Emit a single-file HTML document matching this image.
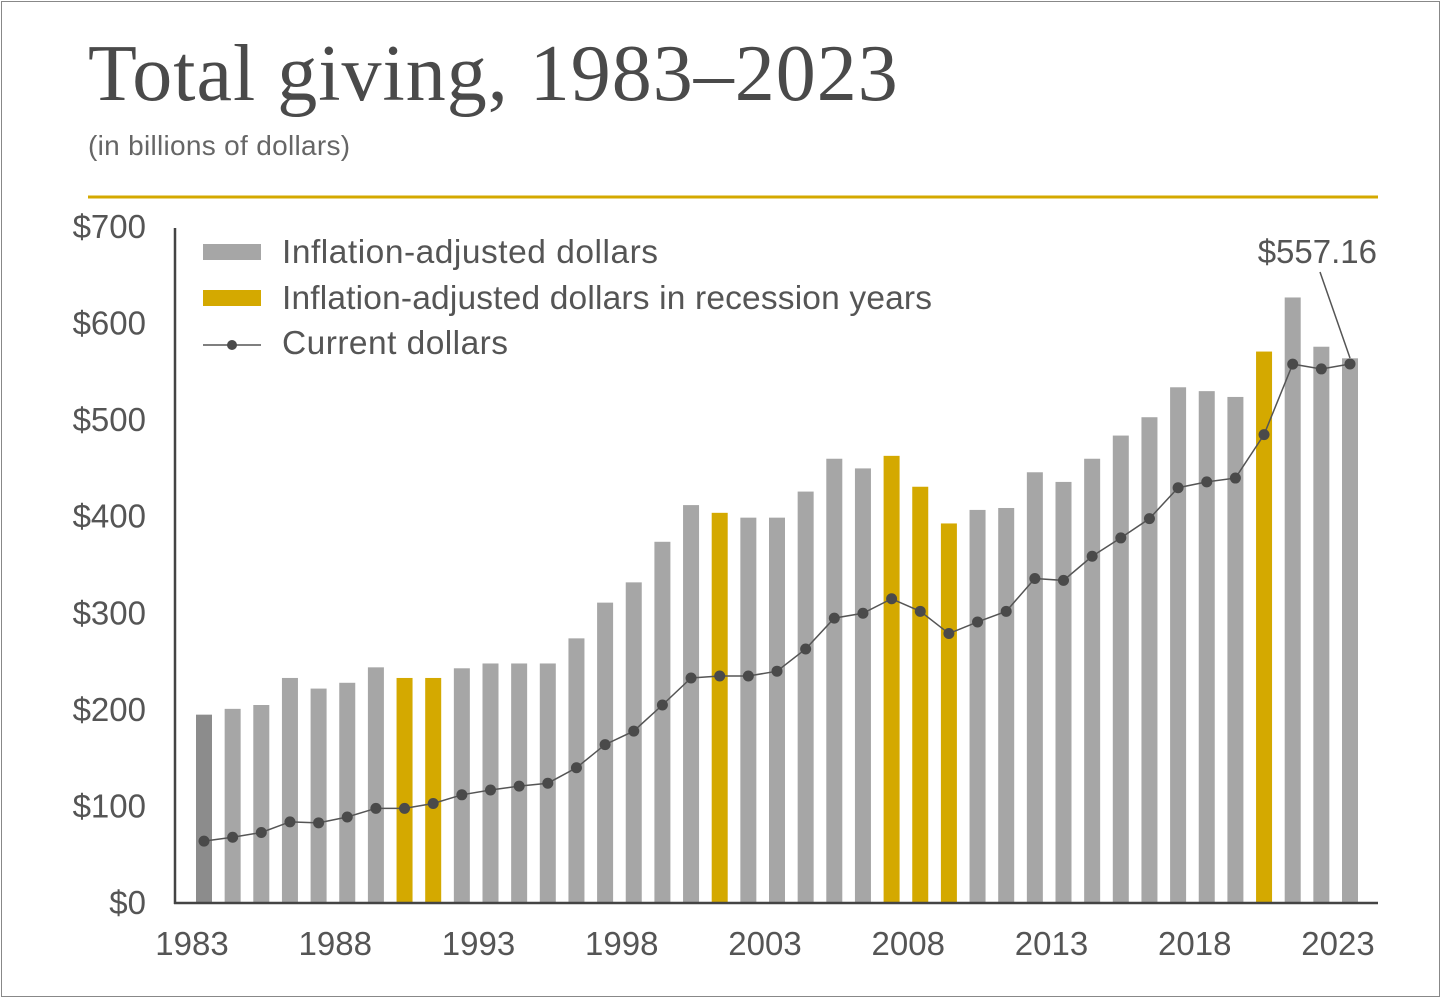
<!DOCTYPE html>
<html><head><meta charset="utf-8"><style>
html,body{margin:0;padding:0;background:#fff}
body{width:1443px;height:1000px;overflow:hidden;position:relative;font-family:"Liberation Sans",sans-serif}
#frame{position:absolute;left:1px;top:1px;width:1439px;height:996px;border:1px solid #888;box-sizing:border-box}
</style></head><body>
<div id="frame"></div>
<svg id="chart" width="1443" height="1000" style="position:absolute;left:0;top:0">
<text x="88" y="100" font-family="Liberation Serif,serif" font-size="80" fill="#4a4a4a" letter-spacing="1">Total giving, 1983–2023</text>
<text x="88" y="155" font-family="Liberation Sans,sans-serif" font-size="28" fill="#666" letter-spacing="0.3">(in billions of dollars)</text>
<line x1="88" y1="197" x2="1378" y2="197" stroke="#d4a900" stroke-width="3"/>
<g id="yticks"></g><g id="bars"></g><g id="line"></g><g id="xticks"></g>
<line x1="175" y1="228" x2="175" y2="904" stroke="#444" stroke-width="2.5"/>
<line x1="174" y1="903" x2="1378" y2="903" stroke="#444" stroke-width="2.5"/>
<g font-size="33.5" fill="#555">
<rect x="203" y="244" width="58" height="16" fill="#a6a6a6"/>
<text x="282" y="263" fill="#555" textLength="376">Inflation-adjusted dollars</text>
<rect x="203" y="290" width="58" height="16" fill="#d4a900"/>
<text x="282" y="309" fill="#555" textLength="650">Inflation-adjusted dollars in recession years</text>
<line x1="203" y1="345" x2="261" y2="345" stroke="#555" stroke-width="1.5"/>
<circle cx="232" cy="345" r="5" fill="#4a4a4a"/>
<text x="282" y="354" fill="#555" textLength="226">Current dollars</text>
</g>
<text x="1377" y="263" text-anchor="end" font-size="33" fill="#555">$557.16</text>
<line id="callout" x1="1320" y1="272" x2="1350" y2="356" stroke="#555" stroke-width="1.5"/>
</svg>
<script>
const years=[];for(let y=1983;y<=2023;y++)years.push(y);
const adjusted=[194,200,204,232,221,227,243,232,232,242,247,247,247,273,310,331,373,411,403,398,398,425,459,449,462,430,392,406,408,445,435,459,483,502,533,529,523,570,626,575,563];
const recessionYears=[1990,1991,2001,2007,2008,2009,2020];
const current=[63,67,72,83,82,88,97,97,102,111,116,120,123,139,163,177,204,232,234,234,239,262,294,299,314,301,278,290,301,335,333,358,377,397,429,435,439,484,557,552,557.16];
const yTickValues=[0,100,200,300,400,500,600,700];
const xTickYears=[1983,1988,1993,1998,2003,2008,2013,2018,2023];
const NS="http://www.w3.org/2000/svg";
const y0=902,yScale=0.9657;
const Y=v=>y0-v*yScale;
const X=yr=>204+(yr-1983)*28.65;
function mk(t,a,p){const e=document.createElementNS(NS,t);for(const k in a)e.setAttribute(k,a[k]);p.appendChild(e);return e;}
const gy=document.getElementById('yticks');
yTickValues.forEach(v=>{const t=mk('text',{x:146,y:Y(v)+12,'text-anchor':'end','font-size':33,fill:'#555'},gy);t.textContent='$'+v;

});
const gb=document.getElementById('bars');
years.forEach((yr,i)=>{const rec=recessionYears.includes(yr);
const r=mk('rect',{x:X(yr)-8,y:Y(adjusted[i]),width:16,height:adjusted[i]*yScale,fill:rec?'#d4a900':(i===0?'#8c8c8c':'#a6a6a6')},gb);

});
const gl=document.getElementById('line');
const p=mk('polyline',{points:years.map((yr,i)=>X(yr)+','+Y(current[i])).join(' '),fill:'none',stroke:'#555','stroke-width':1.5},gl);


years.forEach((yr,i)=>{const c=mk('circle',{cx:X(yr),cy:Y(current[i]),r:5.5,fill:'#4a4a4a'},gl);

});
const gx=document.getElementById('xticks');
xTickYears.forEach(yr=>{const t=mk('text',{x:X(yr)-12,y:955,'text-anchor':'middle','font-size':33,fill:'#555'},gx);t.textContent=yr;

});
const cl=document.getElementById('callout');cl.setAttribute('x2',X(2023));cl.setAttribute('y2',Y(current[current.length-1])-6);
</script>
</body></html>
